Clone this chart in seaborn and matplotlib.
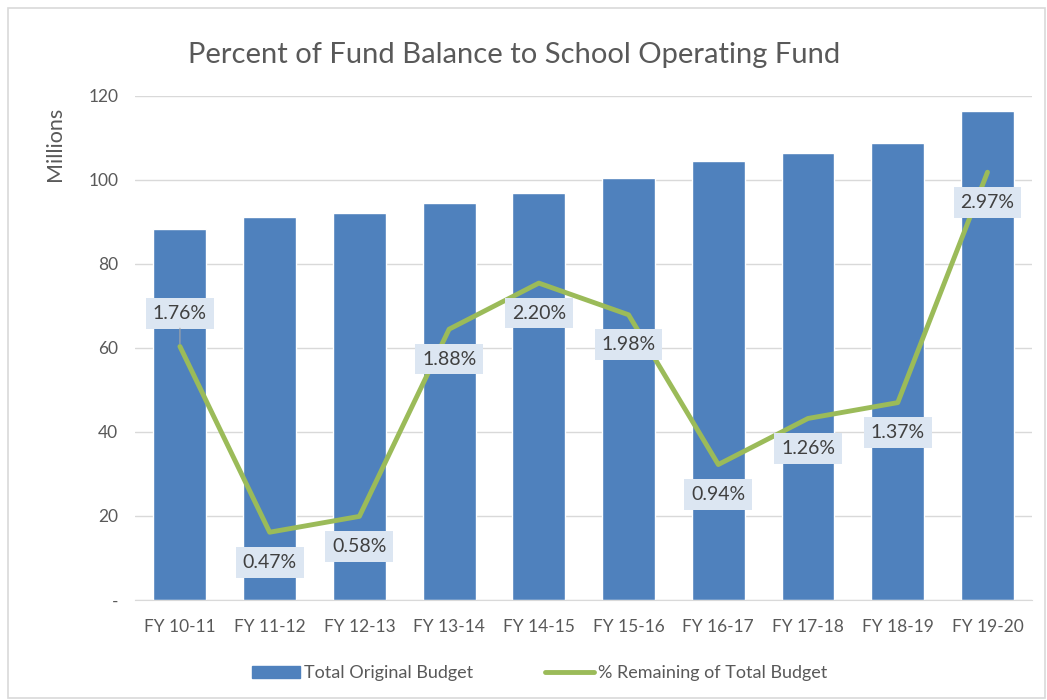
import matplotlib
matplotlib.use('Agg')

import matplotlib.pyplot as plt
import seaborn as sns
import pandas as pd
from matplotlib.patches import Rectangle, Patch
from matplotlib.lines import Line2D

years = ["FY 10-11", "FY 11-12", "FY 12-13", "FY 13-14", "FY 14-15",
         "FY 15-16", "FY 16-17", "FY 17-18", "FY 18-19", "FY 19-20"]
budget = [88.3, 91.2, 92.1, 94.5, 96.9, 100.5, 104.4, 106.5, 108.9, 116.4]
pct_remaining = [1.76, 0.47, 0.58, 1.88, 2.20, 1.98, 0.94, 1.26, 1.37, 2.97]
y_ticks = [0, 20, 40, 60, 80, 100, 120]
y_ticklabels = ["-", "20", "40", "60", "80", "100", "120"]

df = pd.DataFrame({"year": years, "budget": budget, "pct": pct_remaining})

sns.set_style("white")
plt.rcParams['font.family'] = ['Lato', 'DejaVu Sans']

BLUE = "#4F81BD"
GREEN = "#9BBB59"
GRAY = "#595959"

fig = plt.figure(figsize=(10.47, 7), dpi=100)
ax = fig.add_axes([0.129, 0.143, 0.857, 0.72])

# bars on the primary axis
sns.barplot(data=df, x="year", y="budget", color=BLUE, width=0.59,
            saturation=1, ax=ax, zorder=2)
ax.set_ylim(0, 120)
ax.set_xlim(-0.5, 9.5)
ax.set_yticks(y_ticks)
ax.set_yticklabels(y_ticklabels)
ax.grid(axis="y", color="#D9D9D9", linewidth=1, zorder=0)
ax.set_axisbelow(True)
for s in ["top", "right", "left"]:
    ax.spines[s].set_visible(False)
ax.spines["bottom"].set_color("#D9D9D9")
ax.tick_params(axis="both", length=0, colors=GRAY, labelsize=12.5)
ax.tick_params(axis="x", pad=14)
ax.tick_params(axis="y", pad=12)
ax.set_xlabel("")
ax.set_ylabel("Millions", color=GRAY, fontsize=15.5)
ax.yaxis.set_label_coords(-0.078, 0.905)

# percent line on a hidden secondary axis
ax2 = ax.twinx()
sns.lineplot(data=df, x="year", y="pct", color=GREEN, linewidth=3.5,
             ax=ax2, sort=False)
ax2.set_ylim(0, 3.5)
ax2.set_xlim(-0.5, 9.5)
ax2.set_yticks([])
ax2.set_ylabel("")
for s in ax2.spines.values():
    s.set_visible(False)

for i, p in enumerate(pct_remaining):
    dy = 33 if i == 0 else -30
    ax2.annotate(f"{p:.2f}%", xy=(i, p), xytext=(0, dy),
                 textcoords="offset pixels", ha="center", va="center",
                 fontsize=14, color="#404040",
                 bbox=dict(boxstyle="square,pad=0.35", fc="#DCE6F2", ec="none"))
# leader line for the first label
ax2.annotate("", xy=(0, pct_remaining[0]), xytext=(0, 21),
             textcoords="offset pixels",
             arrowprops=dict(arrowstyle="-", color="#A6A6A6", lw=0.8))

fig.text(0.491, 0.921, "Percent of Fund Balance to School Operating Fund",
         ha="center", va="center", fontsize=21, color=GRAY)

handles = [Patch(color=BLUE, label="Total Original Budget"),
           Line2D([], [], color=GREEN, lw=3.5, label="% Remaining of Total Budget")]
fig.legend(handles=handles, loc="center", bbox_to_anchor=(0.515, 0.038),
           ncol=2, frameon=False, fontsize=13, handlelength=2.7,
           columnspacing=4, labelcolor=GRAY, handletextpad=0.2)

fig.patches.append(Rectangle((0.008, 0.003), 0.99, 0.985, transform=fig.transFigure,
                             fill=False, ec="#D9D9D9", lw=1.2))

fig.savefig("out.png", dpi=100)
